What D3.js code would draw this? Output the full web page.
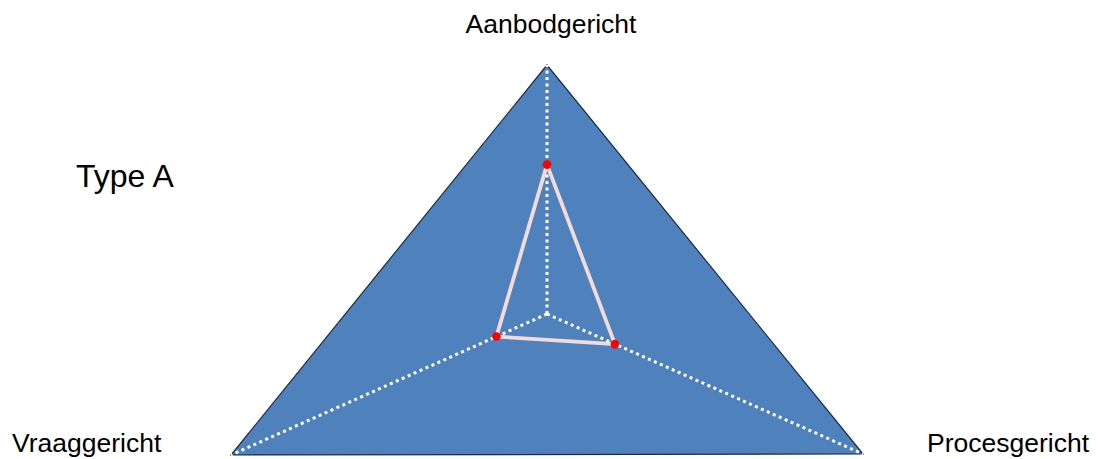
<!DOCTYPE html>
<html>
<head>
<meta charset="utf-8">
<script src="https://cdn.jsdelivr.net/npm/d3@7"></script>
<style>
  body { margin: 0; background: #fff; }
  svg { display: block; font-family: "Liberation Sans", Arial, sans-serif; }
</style>
</head>
<body>
<svg></svg>
<script>
const width = 1098, height = 459;

// data
const categories = ["Aanbodgericht", "Vraaggericht", "Procesgericht"];
const values = [6.0, 1.6, 2.15];   // scored on 0..10
const title = "Type A";

// layout: centre of the radar and the end point of each axis
const center = {x: 547, y: 314};
const axisEnds = [{x: 547, y: 65}, {x: 231, y: 455}, {x: 863, y: 454}];
const labelPos = [
  {x: 551, y: 33, anchor: "middle"},
  {x: 12, y: 452, anchor: "start"},
  {x: 1089, y: 452, anchor: "end"}
];

const r = d3.scaleLinear().domain([0, 10]).range([0, 1]);

const svg = d3.select("svg")
    .attr("width", width)
    .attr("height", height);

const along = (i, v) => ({
  x: center.x + (axisEnds[i].x - center.x) * r(v),
  y: center.y + (axisEnds[i].y - center.y) * r(v)
});

const line = d3.line().x(d => d.x).y(d => d.y);

// outer triangle
svg.append("path")
    .attr("d", line(axisEnds) + "Z")
    .attr("fill", "#4F81BD")
    .attr("stroke", "#1c2b3d")
    .attr("stroke-width", 1.2);

// dotted axes
svg.selectAll(".axis")
    .data(axisEnds)
  .enter().append("line")
    .attr("class", "axis")
    .attr("x1", center.x).attr("y1", center.y)
    .attr("x2", d => d.x).attr("y2", d => d.y)
    .attr("stroke", "#fff")
    .attr("stroke-width", 3)
    .attr("stroke-dasharray", "3,3.5");

// value polygon
const pts = values.map((v, i) => along(i, v));
svg.append("path")
    .attr("d", line(pts) + "Z")
    .attr("fill", "none")
    .attr("stroke", "#F2DCDB")
    .attr("stroke-width", 3.8)
    .attr("stroke-linejoin", "round");

svg.selectAll(".dot")
    .data(pts)
  .enter().append("circle")
    .attr("class", "dot")
    .attr("cx", d => d.x)
    .attr("cy", d => d.y)
    .attr("r", 4.3)
    .attr("fill", "#FF0000");

// labels
svg.selectAll(".label")
    .data(categories)
  .enter().append("text")
    .attr("class", "label")
    .attr("x", (d, i) => labelPos[i].x)
    .attr("y", (d, i) => labelPos[i].y)
    .attr("text-anchor", (d, i) => labelPos[i].anchor)
    .attr("font-size", 26.5)
    .attr("fill", "#000")
    .text(d => d);

svg.append("text")
    .attr("x", 76)
    .attr("y", 187)
    .attr("font-size", 32)
    .attr("fill", "#000")
    .text(title);
</script>
</body>
</html>
